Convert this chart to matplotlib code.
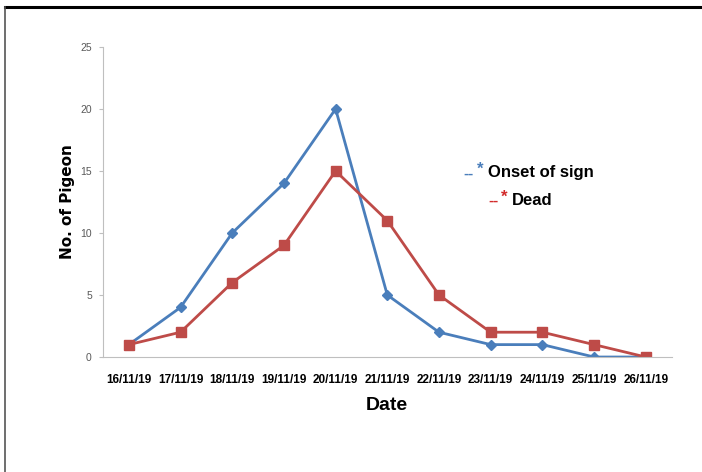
import matplotlib
matplotlib.use("Agg")
import matplotlib.pyplot as plt
from matplotlib.lines import Line2D

dates = ["16/11/19", "17/11/19", "18/11/19", "19/11/19", "20/11/19", "21/11/19",
         "22/11/19", "23/11/19", "24/11/19", "25/11/19", "26/11/19"]
onset = [1, 4, 10, 14, 20, 5, 2, 1, 1, 0, 0]
dead = [1, 2, 6, 9, 15, 11, 5, 2, 2, 1, 0]
yticks = [0, 5, 10, 15, 20, 25]

blue = "#4A7EBB"
red = "#BE4B48"
plt.rcParams['font.family'] = ['Liberation Sans', 'DejaVu Sans']

fig = plt.figure(figsize=(7.02, 4.72), dpi=100)
ax = fig.add_axes([0.1467, 0.2436, 0.81, 0.657])

x = list(range(len(dates)))
ax.plot(x, onset, color=blue, linewidth=2, marker='D', markersize=5, label="Onset of sign")
ax.plot(x, dead, color=red, linewidth=2, marker='s', markersize=7, label="Dead")

ax.set_xlim(-0.5, len(dates) - 0.5)
ax.set_ylim(0, 25)
ax.set_yticks(yticks)
ax.set_xticks(x)
ax.set_xticklabels(dates, fontsize=8.5, fontweight='bold')
ax.tick_params(axis='x', length=0, pad=12)
ax.tick_params(axis='y', length=3, color='#BFBFBF', labelsize=7.5, labelcolor='#595959', pad=5)

for s in ['top', 'right']:
    ax.spines[s].set_visible(False)
ax.spines['left'].set_color('#BFBFBF')
ax.spines['bottom'].set_color('#BFBFBF')

ax.set_xlabel("Date", fontsize=14, fontweight='bold', labelpad=8)
ax.set_ylabel("No. of Pigeon", fontsize=11, fontweight='bold', family=['DejaVu Sans'], labelpad=4)

# legend drawn as text, as in the original
fig.text(0.660, 0.633, "--", color=blue, fontsize=11, fontweight='bold', va='center')
fig.text(0.679, 0.641, "*", color=blue, fontsize=12, fontweight='bold', va='center')
fig.text(0.695, 0.635, "Onset of sign", color='black', fontsize=12, fontweight='bold', va='center')
fig.text(0.695, 0.574, "--", color='#D22B2B', fontsize=11, fontweight='bold', va='center')
fig.text(0.714, 0.582, "*", color='#D22B2B', fontsize=12, fontweight='bold', va='center')
fig.text(0.729, 0.576, "Dead", color='black', fontsize=12, fontweight='bold', va='center')

# frame lines of the original picture
fig.add_artist(Line2D([0.007, 1.0], [0.986, 0.986], transform=fig.transFigure, color='black', linewidth=2.2))
fig.add_artist(Line2D([0.007, 0.007], [0.0, 0.986], transform=fig.transFigure, color='#555555', linewidth=1.2))

fig.savefig("out.png", dpi=100)
